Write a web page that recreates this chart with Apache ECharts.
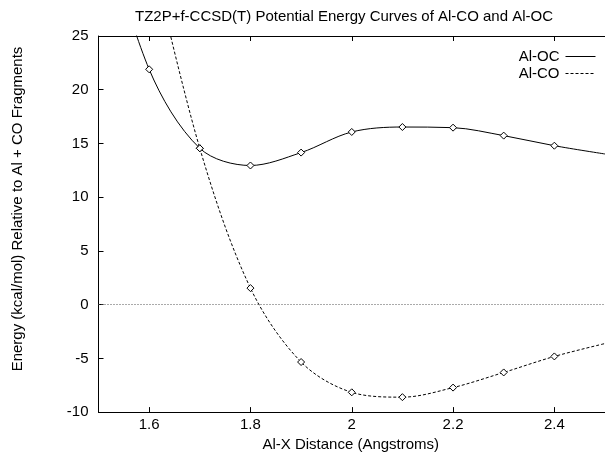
<!DOCTYPE html>
<html>
<head>
<meta charset="utf-8">
<script src="https://cdn.jsdelivr.net/npm/echarts@6/dist/echarts.min.js"></script>
<style>
html,body{margin:0;padding:0;background:#fff;}
#c{width:605px;height:457px;}
</style>
</head>
<body>
<div id="c"></div>
<script>
// ---- data ----
var markerX = [1.6, 1.7, 1.8, 1.9, 2.0, 2.1, 2.2, 2.3, 2.4];
var alOC = [21.9, 14.55, 12.95, 14.15, 16.07, 16.53, 16.47, 15.73, 14.79];
var alCO = [null, 14.55, 1.54, -5.34, -8.16, -8.61, -7.72, -6.31, -4.82];
// curve points just outside the markers (estimated, partly off the visible frame)
var alOCEdge = [[1.5, 37.0], [2.5, 14.02]];
var alCOEdge = [[1.6, 33.5], [2.5, -3.62]];
var xTicks = [1.6, 1.8, 2.0, 2.2, 2.4];
var yMin = -10, yMax = 25, yStep = 5;
var xMin = 1.5, xMax = 2.5;

var FONT = '"Liberation Sans", Arial, Helvetica, sans-serif';

function buildSeries(vals, edge) {
  var d = [{value: edge[0], symbol: 'none'}];
  for (var i = 0; i < markerX.length; i++) {
    if (vals[i] !== null) d.push({value: [markerX[i], vals[i]]});
  }
  d.push({value: edge[1], symbol: 'none'});
  return d;
}

var chart = echarts.init(document.getElementById('c'), null, {renderer: 'canvas'});
var option = {
  animation: false,
  backgroundColor: '#fff',
  textStyle: {fontFamily: FONT, color: '#000'},
  title: {
    text: 'TZ2P+f-CCSD(T) Potential Energy Curves of Al-CO and Al-OC',
    left: 130, top: 4,
    textStyle: {fontFamily: FONT, fontSize: 15, fontWeight: 'normal', color: '#000'}
  },
  legend: {
    orient: 'vertical',
    align: 'right',
    right: 4, top: 44,
    itemWidth: 30, itemHeight: 14, itemGap: 2,
    textStyle: {fontFamily: FONT, fontSize: 15, color: '#000', padding: [0, 1, 0, 0]},
    itemStyle: {opacity: 0},
    lineStyle: {width: 1},
    data: ['Al-OC', 'Al-CO']
  },
  grid: {left: 98.5, right: -7.5, top: 36, bottom: 39, containLabel: false},
  xAxis: [{
    type: 'value', min: xMin, max: xMax, position: 'bottom',
    name: 'Al-X Distance (Angstroms)', nameLocation: 'middle', nameGap: 19,
    nameTextStyle: {fontFamily: FONT, fontSize: 15, color: '#000', padding: [0, 2, 0, 0]},
    axisLine: {show: true, onZero: false, lineStyle: {color: '#000', width: 1}},
    axisTick: {show: true, inside: true, length: 5, customValues: xTicks, lineStyle: {color: '#000'}},
    axisLabel: {show: true, customValues: xTicks, margin: 5, fontFamily: FONT, fontSize: 15, color: '#000',
      formatter: function (v) { return String(Math.round(v * 10) / 10); }},
    splitLine: {show: false}
  }, {
    type: 'value', min: xMin, max: xMax, position: 'top',
    axisLine: {show: true, onZero: false, lineStyle: {color: '#000', width: 1}},
    axisTick: {show: true, inside: true, length: 5, customValues: xTicks, lineStyle: {color: '#000'}},
    axisLabel: {show: false},
    splitLine: {show: false}
  }],
  yAxis: [{
    type: 'value', min: yMin, max: yMax, interval: yStep,
    axisLine: {show: true, onZero: false, lineStyle: {color: '#000', width: 1}},
    axisTick: {show: true, inside: true, length: 5, lineStyle: {color: '#000'}},
    axisLabel: {margin: 10, fontFamily: FONT, fontSize: 15, color: '#000'},
    splitLine: {show: false}
  }],
  graphic: [{
    type: 'text', x: 18, y: 209, rotation: Math.PI / 2,
    style: {
      text: 'Energy (kcal/mol) Relative to Al + CO Fragments',
      font: '15px ' + FONT, fill: '#000', align: 'center', verticalAlign: 'middle'
    }
  }],
  series: [{
    name: 'Al-OC', type: 'line', smooth: 0.33,
    data: buildSeries(alOC, alOCEdge),
    symbol: 'diamond', symbolSize: 7,
    itemStyle: {color: '#fff', borderColor: '#000', borderWidth: 1},
    lineStyle: {color: '#000', width: 1, type: 'solid'},
    markLine: {
      silent: true, symbol: 'none', label: {show: false},
      lineStyle: {color: '#555', width: 1, type: [1, 2]},
      data: [{yAxis: 0}]
    },
    z: 3
  }, {
    name: 'Al-CO', type: 'line', smooth: 0.33,
    data: buildSeries(alCO, alCOEdge),
    symbol: 'diamond', symbolSize: 7,
    itemStyle: {color: '#fff', borderColor: '#000', borderWidth: 1},
    lineStyle: {color: '#000', width: 1, type: [3, 2]},
    z: 3
  }]
};
chart.setOption(option);
</script>
</body>
</html>
